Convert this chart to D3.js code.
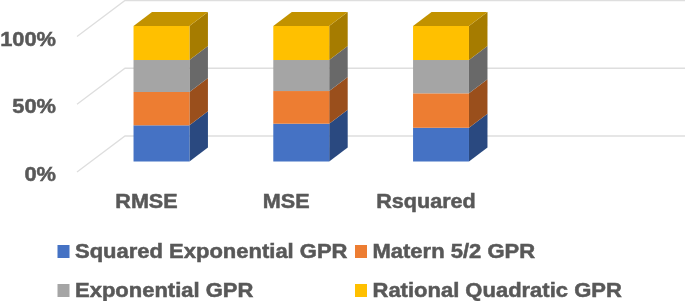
<!DOCTYPE html>
<html>
<head>
<meta charset="utf-8">
<script src="https://cdn.jsdelivr.net/npm/d3@7"></script>
<style>
  html, body { margin: 0; padding: 0; background: #fff; overflow: hidden; }
  text { font-family: "Liberation Sans", Arial, sans-serif; font-weight: bold; fill: #595959; stroke: #595959; stroke-width: 0.5px; }
</style>
</head>
<body>
<div id="chart"></div>
<script>
// Values (percent of each stack)
const categories = ["RMSE", "MSE", "Rsquared"];
const seriesNames = ["Squared Exponential GPR", "Matern 5/2 GPR", "Exponential GPR", "Rational Quadratic GPR"];
const squaredExponential = [26.7, 27.9, 24.9];
const matern52 = [24.6, 24.1, 25.4];
const exponential = [23.6, 22.9, 24.6];
const rationalQuadratic = [25.1, 25.1, 25.1];
const yTicks = [0, 50, 100];

const frontColors = ["#4472c4", "#ed7d31", "#a5a5a5", "#ffc000"];
const sideColors = ["#2a4a80", "#9a4f1e", "#696969", "#a67c00"];
const topColor = "#c29200";

const width = 685, height = 301;

const svg = d3.select("#chart").append("svg")
    .attr("width", width)
    .attr("height", height)
    .style("display", "block");

// the source is a soft, upscaled image
svg.append("defs").append("filter")
    .attr("id", "soft")
    .append("feGaussianBlur")
    .attr("stdDeviation", 0.45);

const root = svg.append("g").attr("filter", "url(#soft)");

// Scales: bars sit on the front plane
const xScale = d3.scaleBand()
    .domain(categories)
    .range([91.6, 510.9])
    .paddingInner(0.6)
    .paddingOuter(0.3);

const yScale = d3.scaleLinear()
    .domain([0, 100])
    .range([161.5, 26]);

// Gridlines: back wall plus the slanted left wall
const wallShift = -25.5;
const wallLeft = 125, wallDx = -48, wallDy = 36;
yTicks.forEach(t => {
    const y = yScale(t) + wallShift;
    root.append("path")
        .attr("d", `M${wallLeft + wallDx},${y + wallDy}L${wallLeft},${y}L${width},${y}`)
        .attr("fill", "none")
        .attr("stroke", "#dedede")
        .attr("stroke-width", 1.3);
});

// Stack the series
const stackRows = categories.map((c, i) => ({
    category: c,
    s0: squaredExponential[i],
    s1: matern52[i],
    s2: exponential[i],
    s3: rationalQuadratic[i]
}));
const stacked = d3.stack().keys(["s0", "s1", "s2", "s3"])(stackRows);

// Depth of the 3D boxes
const depthX = 18.5, depthY = -14;

stacked.forEach((layer, si) => {
    layer.forEach(d => {
        const x0 = xScale(d.data.category);
        const x1 = x0 + xScale.bandwidth();
        const yTop = yScale(d[1]), yBottom = yScale(d[0]);

        // side face
        root.append("path")
            .attr("d", `M${x1},${yBottom}L${x1 + depthX},${yBottom + depthY}L${x1 + depthX},${yTop + depthY}L${x1},${yTop}Z`)
            .attr("fill", sideColors[si]);

        // front face
        root.append("rect")
            .attr("x", x0)
            .attr("y", yTop)
            .attr("width", x1 - x0)
            .attr("height", yBottom - yTop)
            .attr("fill", frontColors[si]);

        // top face only on the last series
        if (si === stacked.length - 1) {
            root.append("path")
                .attr("d", `M${x0},${yTop}L${x0 + depthX},${yTop + depthY}L${x1 + depthX},${yTop + depthY}L${x1},${yTop}Z`)
                .attr("fill", topColor);
        }
    });
});

// Y axis labels, on the front edge of the left wall
const yAxis = root.append("g")
    .attr("transform", "translate(56,12.5)")
    .call(d3.axisLeft(yScale).tickValues(yTicks).tickFormat(d => d + "%").tickSize(0).tickPadding(0));
yAxis.select(".domain").remove();
yAxis.selectAll("text")
    .attr("x", 0)
    .attr("transform", "scale(1.04,1)")
    .style("font-size", "21px")
    .style("font-family", "'Liberation Sans', Arial, sans-serif");

// Category labels
const xAxis = root.append("g")
    .attr("transform", "translate(-15,201)")
    .call(d3.axisBottom(xScale).tickSize(0).tickPadding(0));
xAxis.select(".domain").remove();
xAxis.selectAll("text")
    .attr("dy", "0.35em")
    .attr("y", 0)
    .attr("transform", "scale(1.08,1)")
    .style("font-size", "20px")
    .style("font-family", "'Liberation Sans', Arial, sans-serif");

// Legend, two rows of two
const legendX = d3.scaleOrdinal().domain([0, 1]).range([57.5, 355]);
const legendY = d3.scaleOrdinal().domain([0, 1]).range([251.5, 290.5]);

seriesNames.forEach((name, i) => {
    const col = i % 2, row = Math.floor(i / 2);
    const g = root.append("g")
        .attr("transform", `translate(${legendX(col)},${legendY(row)})`);
    g.append("rect")
        .attr("x", 0)
        .attr("y", -6.5)
        .attr("width", 12)
        .attr("height", 13)
        .attr("fill", frontColors[i]);
    g.append("text")
        .attr("transform", "translate(17.5,6.5) scale(1.1,1)")
        .style("font-size", "20px")
        .text(name);
});
</script>
</body>
</html>
